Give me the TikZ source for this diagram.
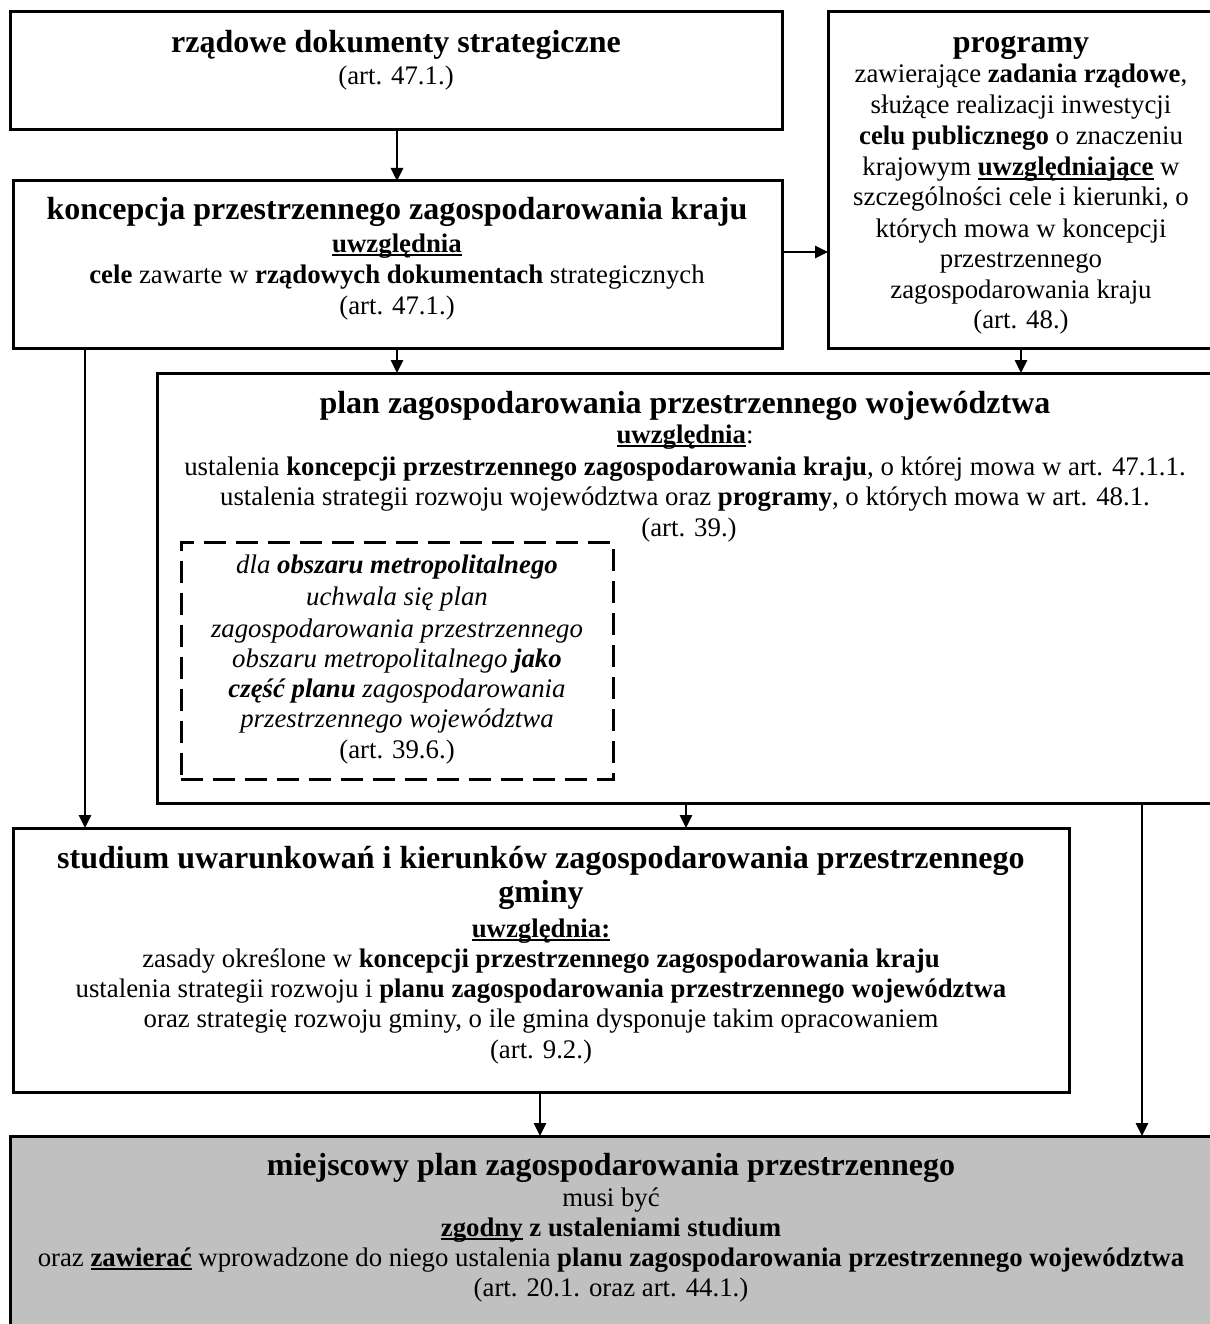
\documentclass[tikz,border=0pt]{standalone}
\usepackage{fontspec}
\setmainfont{Liberation Serif}
\usetikzlibrary{arrows.meta}
\definecolor{mgray}{RGB}{192,192,192}
\newsavebox\ulbox
\newcommand\ulx[1]{\sbox\ulbox{#1}\rlap{\rule[-3.6pt]{\wd\ulbox}{1.8pt}}\usebox\ulbox}
\newcommand\bodyf{\fontsize{26.8}{30.5}\selectfont}
\newcommand\titf{\fontsize{32}{36}\selectfont\bfseries}
\begin{document}
\begin{tikzpicture}[x=1pt,y=-1pt,
  box/.style={draw, line width=3pt, rectangle, inner sep=0pt, outer sep=0pt},
  dbox/.style={draw, line width=3pt, dash pattern=on 22pt off 10pt, rectangle, inner sep=0pt, outer sep=0pt},
  ln/.style={anchor=base, inner sep=0pt, font=\bodyf},
  arr/.style={line width=2.6pt, -{Triangle[length=13pt,width=12pt]}}]
\useasboundingbox (0,0) rectangle (1209,1324);

% boxes
\node[box, minimum width=772, minimum height=118] (b1) at (396,71) {};
\node[box, minimum width=769, minimum height=167] (b2) at (397.5,264.5) {};
\node[box, minimum width=386, minimum height=336] (prog) at (1021,180) {};
\node[box, minimum width=1057, minimum height=430] (plan) at (685.5,588) {};
\node[dbox, minimum width=432, minimum height=237] (metro) at (397,660.5) {};
\node[box, minimum width=1056, minimum height=264] (stud) at (541,960) {};
\node[box, fill=mgray, minimum width=1204, minimum height=208] (miej) at (612,1240) {};

% box 1
\node[ln] (b1a) at (396,53) {\titf rządowe dokumenty strategiczne};
\node[ln] (b1b) at (396,85) {(art. 47.1.)};

% box 2
\node[ln] (b2a) at (397,220) {\titf koncepcja przestrzennego zagospodarowania kraju};
\node[ln] (b2b) at (397,252) {\ulx{\textbf{uwzględnia}}};
\node[ln] (b2c) at (397,283) {\textbf{cele} zawarte w \textbf{rządowych dokumentach} strategicznych};
\node[ln] (b2d) at (397,314) {(art. 47.1.)};

% programy
\node[ln] (p1) at (1021,53) {\titf programy};
\node[ln] (p2) at (1021,83) {zawierające \textbf{zadania rządowe},};
\node[ln] (p3) at (1021,114) {służące realizacji inwestycji};
\node[ln] (p4) at (1021,145) {\textbf{celu publicznego} o znaczeniu};
\node[ln] (p5) at (1021,176) {krajowym \ulx{\textbf{uwzględniające}} w};
\node[ln] (p6) at (1021,206) {szczególności cele i kierunki, o};
\node[ln] (p7) at (1021,237) {których mowa w koncepcji};
\node[ln] (p8) at (1021,267) {przestrzennego};
\node[ln] (p9) at (1021,298) {zagospodarowania kraju};
\node[ln] (p10) at (1021,328) {(art. 48.)};

% plan wojewodztwa
\node[ln] (w1) at (685,413) {\titf plan zagospodarowania przestrzennego województwa};
\node[ln] (w2) at (685,443) {\ulx{\textbf{uwzględnia}}:};
\node[ln] (w3) at (685,475) {ustalenia \textbf{koncepcji przestrzennego zagospodarowania kraju}, o której mowa w art. 47.1.1.};
\node[ln] (w4) at (685,505) {ustalenia strategii rozwoju województwa oraz \textbf{programy}, o których mowa w art. 48.1.};
\node[ln] (w5) at (689,536) {(art. 39.)};

% metropolitan
\node[ln] (m1) at (397,573) {\itshape dla \textbf{obszaru metropolitalnego}};
\node[ln] (m2) at (397,605) {\itshape uchwala się plan};
\node[ln] (m3) at (397,637) {\itshape zagospodarowania przestrzennego};
\node[ln] (m4) at (397,667) {\itshape obszaru metropolitalnego \textbf{jako}};
\node[ln] (m5) at (397,697) {\itshape \textbf{część planu} zagospodarowania};
\node[ln] (m6) at (397,727) {\itshape przestrzennego województwa};
\node[ln] (m7) at (397,758) {(art. 39.6.)};

% studium
\node[ln] (s1) at (541,868) {\titf studium uwarunkowań i kierunków zagospodarowania przestrzennego};
\node[ln] (s2) at (541,902) {\titf gminy};
\node[ln] (s3) at (541,937) {\ulx{\textbf{uwzględnia:}}};
\node[ln] (s4) at (541,967) {zasady określone w \textbf{koncepcji przestrzennego zagospodarowania kraju}};
\node[ln] (s5) at (541,997) {ustalenia strategii rozwoju i \textbf{planu zagospodarowania przestrzennego województwa}};
\node[ln] (s6) at (541,1027) {oraz strategię rozwoju gminy, o ile gmina dysponuje takim opracowaniem};
\node[ln] (s7) at (541,1058) {(art. 9.2.)};

% miejscowy
\node[ln] (l1) at (611,1175) {\titf miejscowy plan zagospodarowania przestrzennego};
\node[ln] (l2) at (611,1206) {musi być};
\node[ln] (l3) at (611,1236) {\ulx{\textbf{zgodny}} \textbf{z ustaleniami studium}};
\node[ln] (l4) at (611,1266) {oraz \ulx{\textbf{zawierać}} wprowadzone do niego ustalenia \textbf{planu zagospodarowania przestrzennego województwa}};
\node[ln] (l5) at (611,1296) {(art. 20.1. oraz art. 44.1.)};

% connectors
\coordinate (xa) at (397,0);
\coordinate (xl) at (85,0);
\coordinate (xm) at (686,0);
\coordinate (xr) at (1142,0);
\coordinate (xs) at (540,0);
\coordinate (ym) at (0,252);
\draw[arr] (xa |- b1.south) -- (xa |- b2.north);
\draw[arr] (b2.east |- ym) -- (prog.west |- ym);
\draw[arr] (xa |- b2.south) -- (xa |- plan.north);
\draw[arr] (prog.south) -- (prog.south |- plan.north);
\draw[arr] (xl |- b2.south) -- (xl |- stud.north);
\draw[arr] (xm |- plan.south) -- (xm |- stud.north);
\draw[arr] (xr |- plan.south) -- (xr |- miej.north);
\draw[arr] (xs |- stud.south) -- (xs |- miej.north);
\end{tikzpicture}
\end{document}
